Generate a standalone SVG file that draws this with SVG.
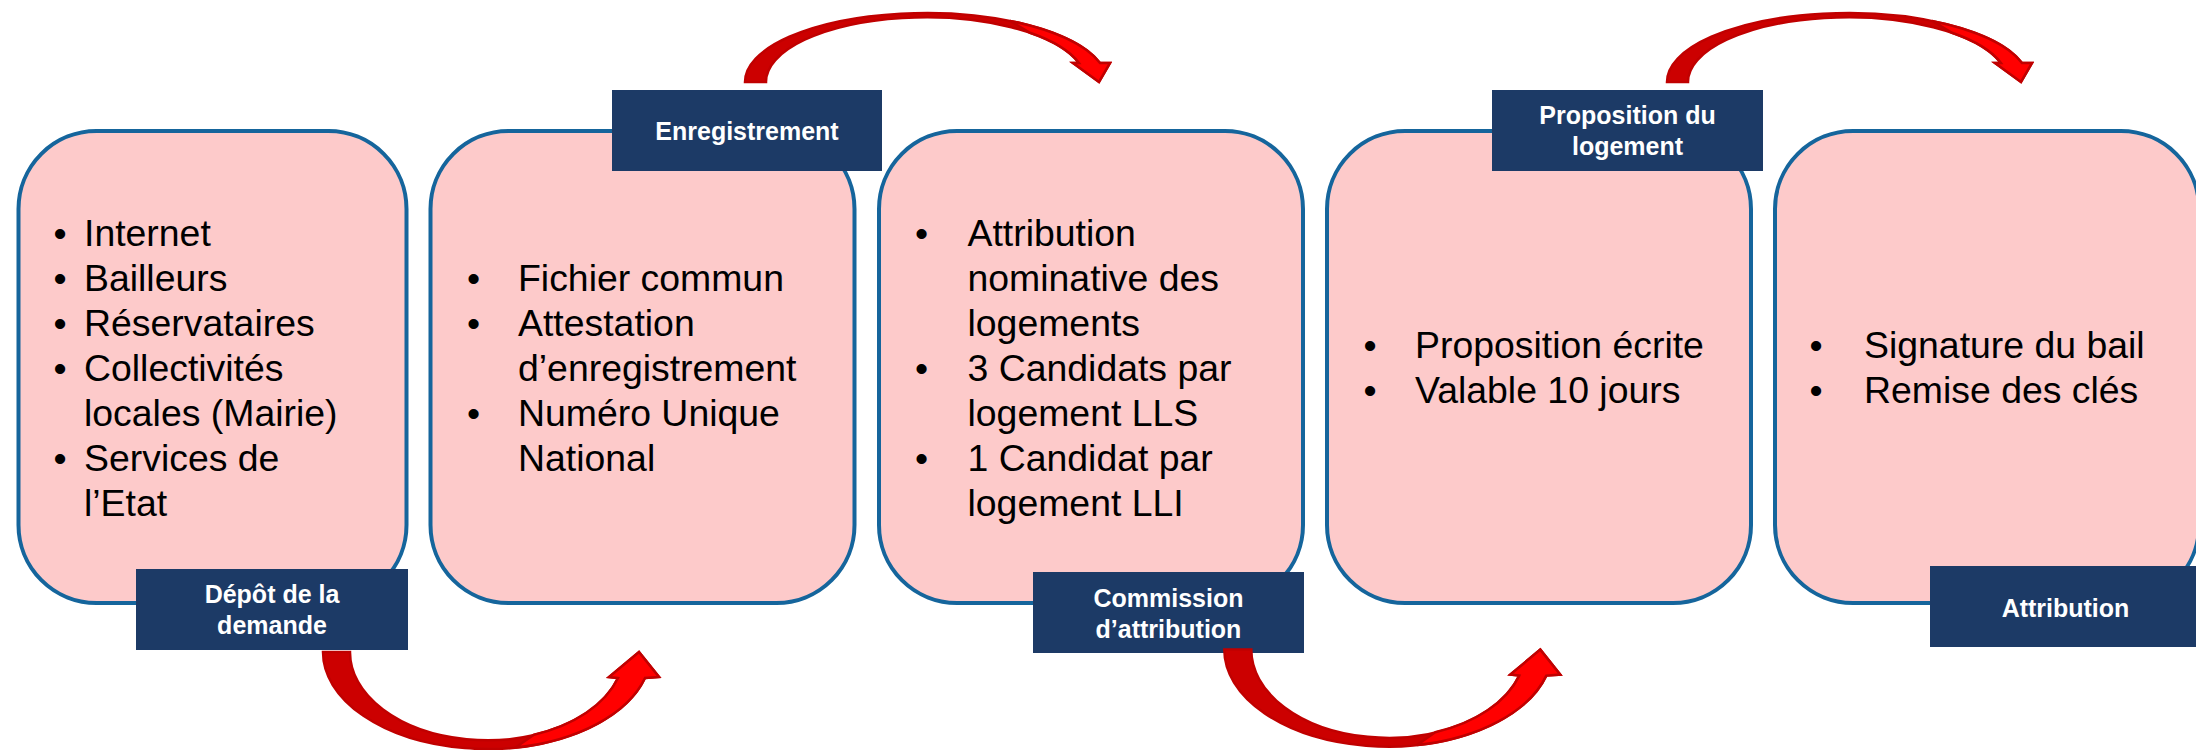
<svg xmlns="http://www.w3.org/2000/svg" xmlns:xlink="http://www.w3.org/1999/xlink" width="2196" height="750" viewBox="0 0 2196 750">
  <style>
    .box { fill: #fdcaca; stroke: #15659c; stroke-width: 4; }
    .tag { fill: #1c3a66; }
    .tagtxt { font-family: "Liberation Sans", Arial, sans-serif; font-size: 25px; font-weight: bold; fill: #ffffff; text-anchor: middle; }
    .body { font-family: "Liberation Sans", Arial, sans-serif; font-size: 37.4px; fill: #000000; }
    .dot { font-family: "Liberation Sans", Arial, sans-serif; font-size: 37.4px; fill: #000000; text-anchor: middle; }
    .back { fill: #cc0000; stroke: #c00000; stroke-width: 2.5; stroke-linejoin: miter; }
    .front { fill: #ff0000; stroke: #c00000; stroke-width: 2.5; stroke-linejoin: miter; }
  </style>
  <defs>
    <!-- curved arrow dipping below the boxes -->
    <g id="arrowDown">
      <path class="back" d="M 323,652 A 164 97 0 0 0 645,678 L 659,677 L 639,652 L 609,677 L 618,678 A 137 88 0 0 1 350,652 Z"/>
      <path class="front" d="M 515.5,747.5 L 533.9,734.7 A 137 88 0 0 0 618,678 L 609,677 L 639,652 L 659,677 L 645,678 A 164 97 0 0 1 515.5,747.5 Z"/>
    </g>
    <!-- curved arrow arching above the boxes -->
    <g id="arrowUp">
      <path class="back" d="M 745,82 A 181 69 0 0 1 1100,63 L 1110,63 L 1099,82 L 1073,63 L 1079,63 A 160 64.7 0 0 0 766,82 Z"/>
      <path class="front" d="M 1010,20.9 L 1030,32.8 A 160 64.7 0 0 1 1079,63 L 1073,63 L 1099,82 L 1110,63 L 1100,63 A 181 69 0 0 0 1010,20.9 Z"/>
    </g>
  </defs>

  <rect width="2196" height="750" fill="#ffffff"/>

  <!-- step 1 -->
  <g id="depot">
    <rect class="box" x="18.5" y="131" width="388" height="472" rx="78" ry="78"/>
    <text class="dot" x="60" y="246">•</text>
    <text class="dot" x="60" y="291">•</text>
    <text class="dot" x="60" y="336">•</text>
    <text class="dot" x="60" y="381">•</text>
    <text class="dot" x="60" y="471">•</text>
    <text class="body">
      <tspan x="84" y="246">Internet</tspan>
      <tspan x="84" y="291">Bailleurs</tspan>
      <tspan x="84" y="336">Réservataires</tspan>
      <tspan x="84" y="381">Collectivités</tspan>
      <tspan x="84" y="426">locales (Mairie)</tspan>
      <tspan x="84" y="471">Services de</tspan>
      <tspan x="84" y="516">l’Etat</tspan>
    </text>
    <rect class="tag" x="136" y="569" width="272" height="81"/>
    <text class="tagtxt"><tspan x="272" y="603">Dépôt de la</tspan><tspan x="272" y="634">demande</tspan></text>
  </g>

  <!-- step 2 -->
  <g id="enregistrement">
    <rect class="box" x="430.5" y="131" width="424" height="472" rx="78" ry="78"/>
    <text class="dot" x="473.5" y="291">•</text>
    <text class="dot" x="473.5" y="336">•</text>
    <text class="dot" x="473.5" y="426">•</text>
    <text class="body">
      <tspan x="518" y="291">Fichier commun</tspan>
      <tspan x="518" y="336">Attestation</tspan>
      <tspan x="518" y="381">d’enregistrement</tspan>
      <tspan x="518" y="426">Numéro Unique</tspan>
      <tspan x="518" y="471">National</tspan>
    </text>
    <rect class="tag" x="612" y="90" width="270" height="81"/>
    <text class="tagtxt" x="747" y="140">Enregistrement</text>
  </g>

  <!-- step 3 -->
  <g id="commission">
    <rect class="box" x="879" y="131" width="424" height="472" rx="78" ry="78"/>
    <text class="dot" x="921.5" y="246">•</text>
    <text class="dot" x="921.5" y="381">•</text>
    <text class="dot" x="921.5" y="471">•</text>
    <text class="body">
      <tspan x="967.5" y="246">Attribution</tspan>
      <tspan x="967.5" y="291">nominative des</tspan>
      <tspan x="967.5" y="336">logements</tspan>
      <tspan x="967.5" y="381">3 Candidats par</tspan>
      <tspan x="967.5" y="426">logement LLS</tspan>
      <tspan x="967.5" y="471">1 Candidat par</tspan>
      <tspan x="967.5" y="516">logement LLI</tspan>
    </text>
    <rect class="tag" x="1033" y="572" width="271" height="81"/>
    <text class="tagtxt"><tspan x="1168.5" y="607">Commission</tspan><tspan x="1168.5" y="638">d’attribution</tspan></text>
  </g>

  <!-- step 4 -->
  <g id="proposition">
    <rect class="box" x="1327" y="131" width="424" height="472" rx="78" ry="78"/>
    <text class="dot" x="1370" y="358">•</text>
    <text class="dot" x="1370" y="403">•</text>
    <text class="body">
      <tspan x="1415" y="358">Proposition écrite</tspan>
      <tspan x="1415" y="403">Valable 10 jours</tspan>
    </text>
    <rect class="tag" x="1492" y="90" width="271" height="81"/>
    <text class="tagtxt"><tspan x="1627.5" y="124">Proposition du</tspan><tspan x="1627.5" y="155">logement</tspan></text>
  </g>

  <!-- step 5 -->
  <g id="attribution">
    <rect class="box" x="1775" y="131" width="424" height="472" rx="78" ry="78"/>
    <text class="dot" x="1816" y="358">•</text>
    <text class="dot" x="1816" y="403">•</text>
    <text class="body">
      <tspan x="1864" y="358">Signature du bail</tspan>
      <tspan x="1864" y="403">Remise des clés</tspan>
    </text>
    <rect class="tag" x="1930" y="566" width="271" height="81"/>
    <text class="tagtxt" x="2065.5" y="617">Attribution</text>
  </g>

  <!-- connectors -->
  <g id="connectors">
    <use xlink:href="#arrowDown"/>
    <use xlink:href="#arrowDown" transform="translate(901.3,-2.4)"/>
    <use xlink:href="#arrowUp"/>
    <use xlink:href="#arrowUp" transform="translate(922,0)"/>
  </g>
</svg>
